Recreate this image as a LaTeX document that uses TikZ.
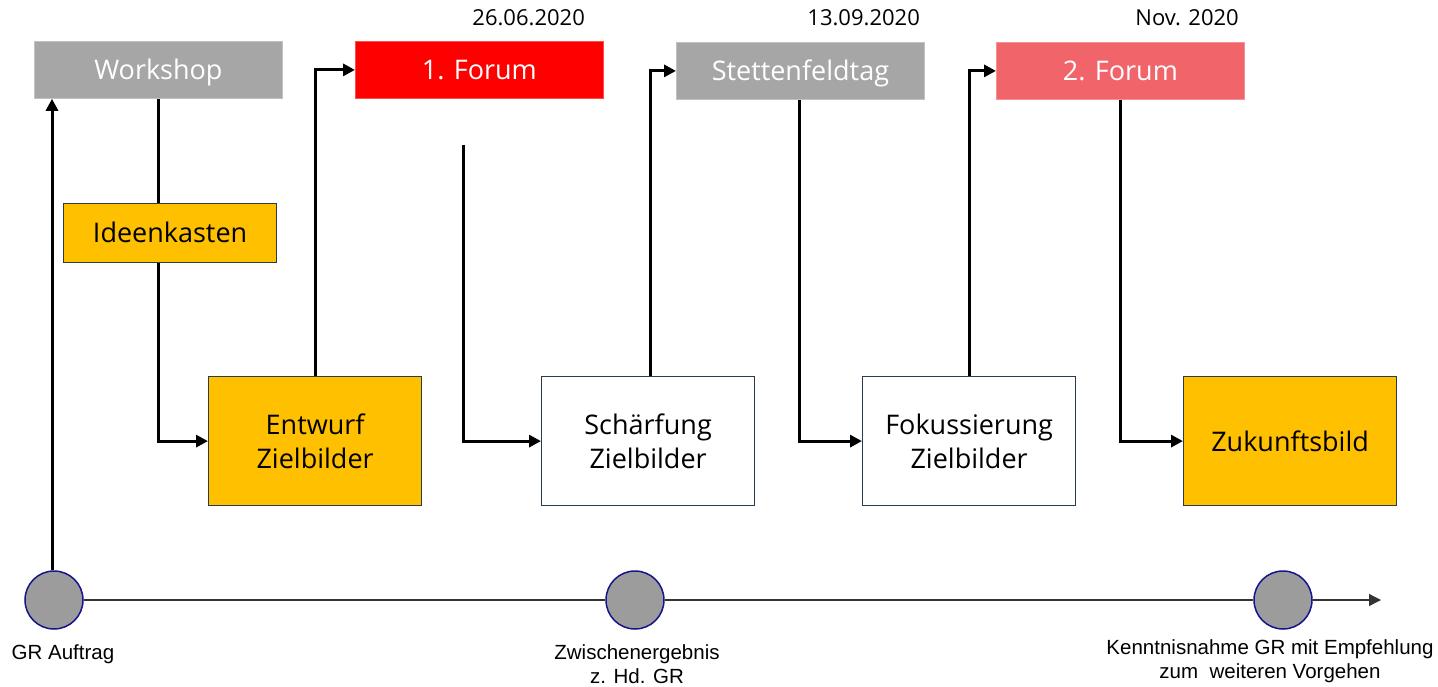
\documentclass[tikz,border=0pt]{standalone}
\usepackage{fontspec}
\setmainfont{Open Sans}
\newfontfamily\arialf{Liberation Sans}
\usetikzlibrary{arrows.meta}
\definecolor{boxgrey}{HTML}{A6A6A6}
\definecolor{boxred}{HTML}{FF0000}
\definecolor{boxpink}{HTML}{F0646A}
\definecolor{boxorange}{HTML}{FFC000}
\definecolor{boxedge}{HTML}{2A3B4C}
\definecolor{dotfill}{HTML}{9C9C9C}
\definecolor{dotedge}{HTML}{14148C}
\definecolor{tlgrey}{HTML}{333333}
\tikzset{
  topbox/.style={anchor=north west, minimum width=248pt, minimum height=57pt, inner sep=0pt, text=white, text height=19pt, text depth=0pt, font=\fontsize{27}{32}\selectfont},
  greybox/.style={topbox, fill=boxgrey, draw=boxgrey!70!white, line width=0.8pt},
  redbox/.style={topbox, fill=boxred, draw=boxred!70!white, line width=0.8pt},
  pinkbox/.style={topbox, fill=boxpink, draw=boxpink!70!white, line width=0.8pt},
  stepbox/.style={anchor=north west, minimum width=213pt, minimum height=129pt, inner sep=0pt, draw=boxedge, line width=1.2pt, align=center, font=\fontsize{27}{34}\selectfont},
  datelabel/.style={anchor=east, font=\fontsize{22}{26}\selectfont, inner sep=0pt},
  conn/.style={line width=3pt, -{Triangle[length=12pt,width=12pt]}},
  plainconn/.style={line width=3pt},
  dot/.style={circle, minimum size=58pt, inner sep=0pt, fill=dotfill, draw=dotedge, line width=1.5pt},
  tl/.style={line width=1.3pt, draw=tlgrey},
  dotlabel/.style={align=center, font=\arialf\fontsize{20.5}{24.5}\selectfont, inner sep=0pt},
}
\begin{document}
\begin{tikzpicture}[x=1pt,y=-1pt]
\useasboundingbox (0,0) rectangle (1438,687);
% top boxes
\node[greybox] (ws) at (34,41) {Workshop};
\node[redbox]  (f1) at (355,41) {1. Forum};
\node[greybox] (st) at (676,42) {Stettenfeldtag};
\node[pinkbox] (f2) at (996,42) {2. Forum};
% dates
\node[datelabel] (d1) at (585,18) {26.06.2020};
\node[datelabel] (d2) at (920,18) {13.09.2020};
\node[datelabel] (d3) at (1239,18) {Nov. 2020};
% Ideenkasten
\node[anchor=north west, minimum width=213pt, minimum height=59pt, inner sep=0pt, draw=boxedge, line width=1.2pt, fill=boxorange, text height=19pt, text depth=0pt, font=\fontsize{27}{32}\selectfont] (idk) at (63,203) {Ideenkasten};
% step boxes
\node[stepbox, fill=boxorange] (entw) at (208,376) {Entwurf\\Zielbilder};
\node[stepbox, fill=white] (sch) at (541,376) {Schärfung\\Zielbilder};
\node[stepbox, fill=white] (fok) at (862,376) {Fokussierung\\Zielbilder};
\node[stepbox, fill=boxorange] (zk) at (1183,376) {Zukunftsbild};
% timeline dots
\node[dot] (gr) at (54,600) {};
\node[dot] (zw) at (635,600) {};
\node[dot] (kn) at (1283,600) {};
\coordinate (tlend) at (1381,600);
\coordinate (f1c) at (463,145);
% labels
\node[dotlabel] (lgr) at (63,654) {GR Auftrag};
\node[dotlabel] (lzw) at (637,664) {Zwischenergebnis\\z. Hd. GR};
\node[dotlabel] (lkn) at (1270,661) {Kenntnisnahme GR mit Empfehlung\\zum\ \ weiteren Vorgehen};
% timeline
\draw[tl] (gr.east) -- (zw.west);
\draw[tl] (zw.east) -- (kn.west);
\draw[tl, -{Triangle[length=12pt,width=12pt]}] (kn.east) -- (tlend);
% connectors
\draw[conn] ([xshift=-2pt]gr.north) -- ([xshift=-2pt]gr.north |- ws.south);
\draw[plainconn] (ws.south) -- (ws.south |- idk.north);
\draw[conn] (ws.south |- idk.south) |- (entw.west);
\draw[conn] (entw.north) |- (f1.west);
\draw[conn] (f1c) |- (sch.west);
\draw[conn] ([xshift=2pt]sch.north) |- (st.west);
\draw[conn] ([xshift=-1pt]st.south) |- (fok.west);
\draw[conn] (fok.north) |- (f2.west);
\draw[conn] (f2.south) |- (zk.west);
\end{tikzpicture}
\end{document}
